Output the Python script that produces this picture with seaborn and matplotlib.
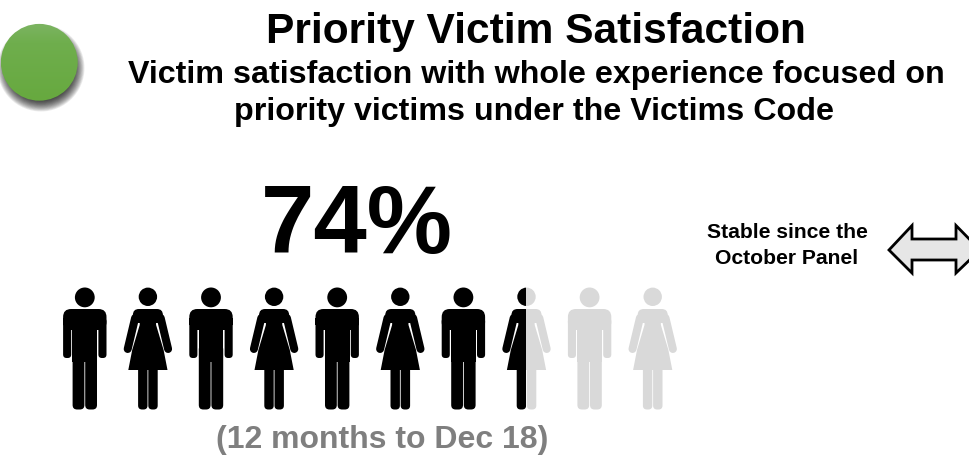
import numpy as np
import matplotlib
matplotlib.use("Agg")
import matplotlib.pyplot as plt
from matplotlib.patches import Circle, FancyBboxPatch, Polygon, Rectangle
from matplotlib.colors import LinearSegmentedColormap
import seaborn as sns

# Content of the infographic
title = "Priority Victim Satisfaction"
subtitle_lines = ["Victim satisfaction with whole experience focused on",
                  "priority victims under the Victims Code"]
headline = "74%"
period = "(12 months to Dec 18)"
trend_lines = ["Stable since the", "October Panel"]
figure_kinds = ["man", "woman"] * 5
filled_figures = 7.5

INK = "#000000"
MUTED = "#d9d9d9"
FONT = "Liberation Sans"

sns.set_theme(style="white", rc={"font.family": FONT, "font.weight": "bold"})

fig = plt.figure(figsize=(9.69, 4.61), dpi=100)
ax = fig.add_axes([0, 0, 1, 1])
ax.set_xlim(0, 969)
ax.set_ylim(461, 0)
sns.despine(ax=ax, left=True, bottom=True)
ax.set_xticks([])
ax.set_yticks([])


def rbox(x0, y0, x1, y1, r, color, clip):
    p = FancyBboxPatch((x0 + r, y0 + r), x1 - x0 - 2 * r, y1 - y0 - 2 * r,
                       boxstyle=f"round,pad={r},rounding_size={r}",
                       fc=color, ec="none", lw=0)
    ax.add_patch(p)
    p.set_clip_path(clip)


def poly(points, color, clip):
    p = Polygon(points, closed=True, fc=color, ec="none", lw=0)
    ax.add_patch(p)
    p.set_clip_path(clip)


def limb(x0, y0, x1, y1, width, color, clip):
    line, = ax.plot([x0, x1], [y0, y1], color=color, lw=width * 0.72,
                    solid_capstyle="round")
    line.set_clip_path(clip)


def disc(cx, cy, r, color, clip):
    head = Circle((cx, cy), r, fc=color, ec="none", lw=0)
    ax.add_patch(head)
    head.set_clip_path(clip)


def draw_man(cx, color, clip):
    disc(cx, 297.4, 9.9, color, clip)
    rbox(cx - 21.7, 309, cx + 21.7, 330, 8, color, clip)
    poly([(cx - 21.7, 318), (cx + 21.7, 318), (cx + 21.7, 325), (cx - 21.7, 325)], color, clip)
    rbox(cx - 21.7, 318, cx - 13.6, 358, 3.5, color, clip)
    rbox(cx + 13.6, 318, cx + 21.7, 358, 3.5, color, clip)
    poly([(cx - 12.4, 315), (cx + 12.4, 315), (cx + 12.4, 362), (cx - 12.4, 362)], color, clip)
    rbox(cx - 12.2, 345, cx - 0.4, 409.5, 4.5, color, clip)
    rbox(cx + 0.4, 345, cx + 12.2, 409.5, 4.5, color, clip)


def draw_woman(cx, color, clip):
    disc(cx, 296.8, 9.2, color, clip)
    rbox(cx - 15, 309, cx + 15, 323, 6, color, clip)
    poly([(cx - 8, 318), (cx + 8, 318), (cx + 8.2, 325), (cx + 15.7, 350), (cx + 19.6, 370),
          (cx - 19.6, 370), (cx - 15.7, 350), (cx - 8.2, 325)], color, clip)
    limb(cx - 12.8, 318, cx - 20.2, 349, 8, color, clip)
    limb(cx + 12.8, 318, cx + 20.2, 349, 8, color, clip)
    rbox(cx - 9.8, 360, cx - 0.4, 409.5, 4, color, clip)
    rbox(cx + 0.4, 360, cx + 9.8, 409.5, 4, color, clip)


DRAW = {"man": draw_man, "woman": draw_woman}

# Row of people, dark up to the filled share and pale beyond it
first_cx, step = 84.8, 63.1
half_cell = step / 2
split_x = first_cx + (filled_figures - 0.5) * step
left_clip = Rectangle((0, 270), split_x, 160, transform=ax.transData)
right_clip = Rectangle((split_x, 270), 969 - split_x, 160, transform=ax.transData)
for i, kind in enumerate(figure_kinds):
    cx = first_cx + i * step
    if cx - half_cell < split_x:
        DRAW[kind](cx, INK, left_clip)
    if cx + half_cell > split_x:
        DRAW[kind](cx, MUTED, right_clip)

# Status light: soft shadow, then a green disc with a gentle vertical gradient
for k in range(18):
    ax.add_patch(Circle((41, 68), 43.5 - k * 0.8, fc="#000000", ec="none",
                        alpha=0.08))
cmap = LinearSegmentedColormap.from_list(
    "status", [(0, "#7cb462"), (0.25, "#6fae4d"), (1, "#67a93f")])
grad = np.linspace(0, 1, 100).reshape(-1, 1)
im = ax.imshow(grad, cmap=cmap, extent=(1, 78, 101, 24), aspect="auto", zorder=3)
im.set_clip_path(Circle((39.3, 62.3), 38.4, transform=ax.transData))
ax.set_xlim(0, 969)
ax.set_ylim(461, 0)

# Two-headed outline arrow running off the right edge
arrow = Polygon([(889, 250), (912, 225.5), (912, 239), (956, 239), (956, 225.5),
                 (980, 250), (956, 273), (956, 260), (912, 260), (912, 273)],
                closed=True, fc="#e6e6e6", ec="black", lw=2.0, joinstyle="miter")
ax.add_patch(arrow)


def label(x, y, text, size, color="black"):
    ax.text(x, y, text, ha="center", va="baseline", fontsize=size, color=color,
            fontweight="bold", family=FONT)


# Text
label(536, 43.5, title, 30.6)
label(536, 82.7, subtitle_lines[0], 23.2)
label(534.5, 120, subtitle_lines[1], 23.2)
label(356.5, 253, headline, 69)
label(382.5, 448, period, 23, "#7f7f7f")
label(787, 238, trend_lines[0], 15.2)
label(787, 263.5, trend_lines[1], 15.2)

fig.savefig("out.png", dpi=100)
